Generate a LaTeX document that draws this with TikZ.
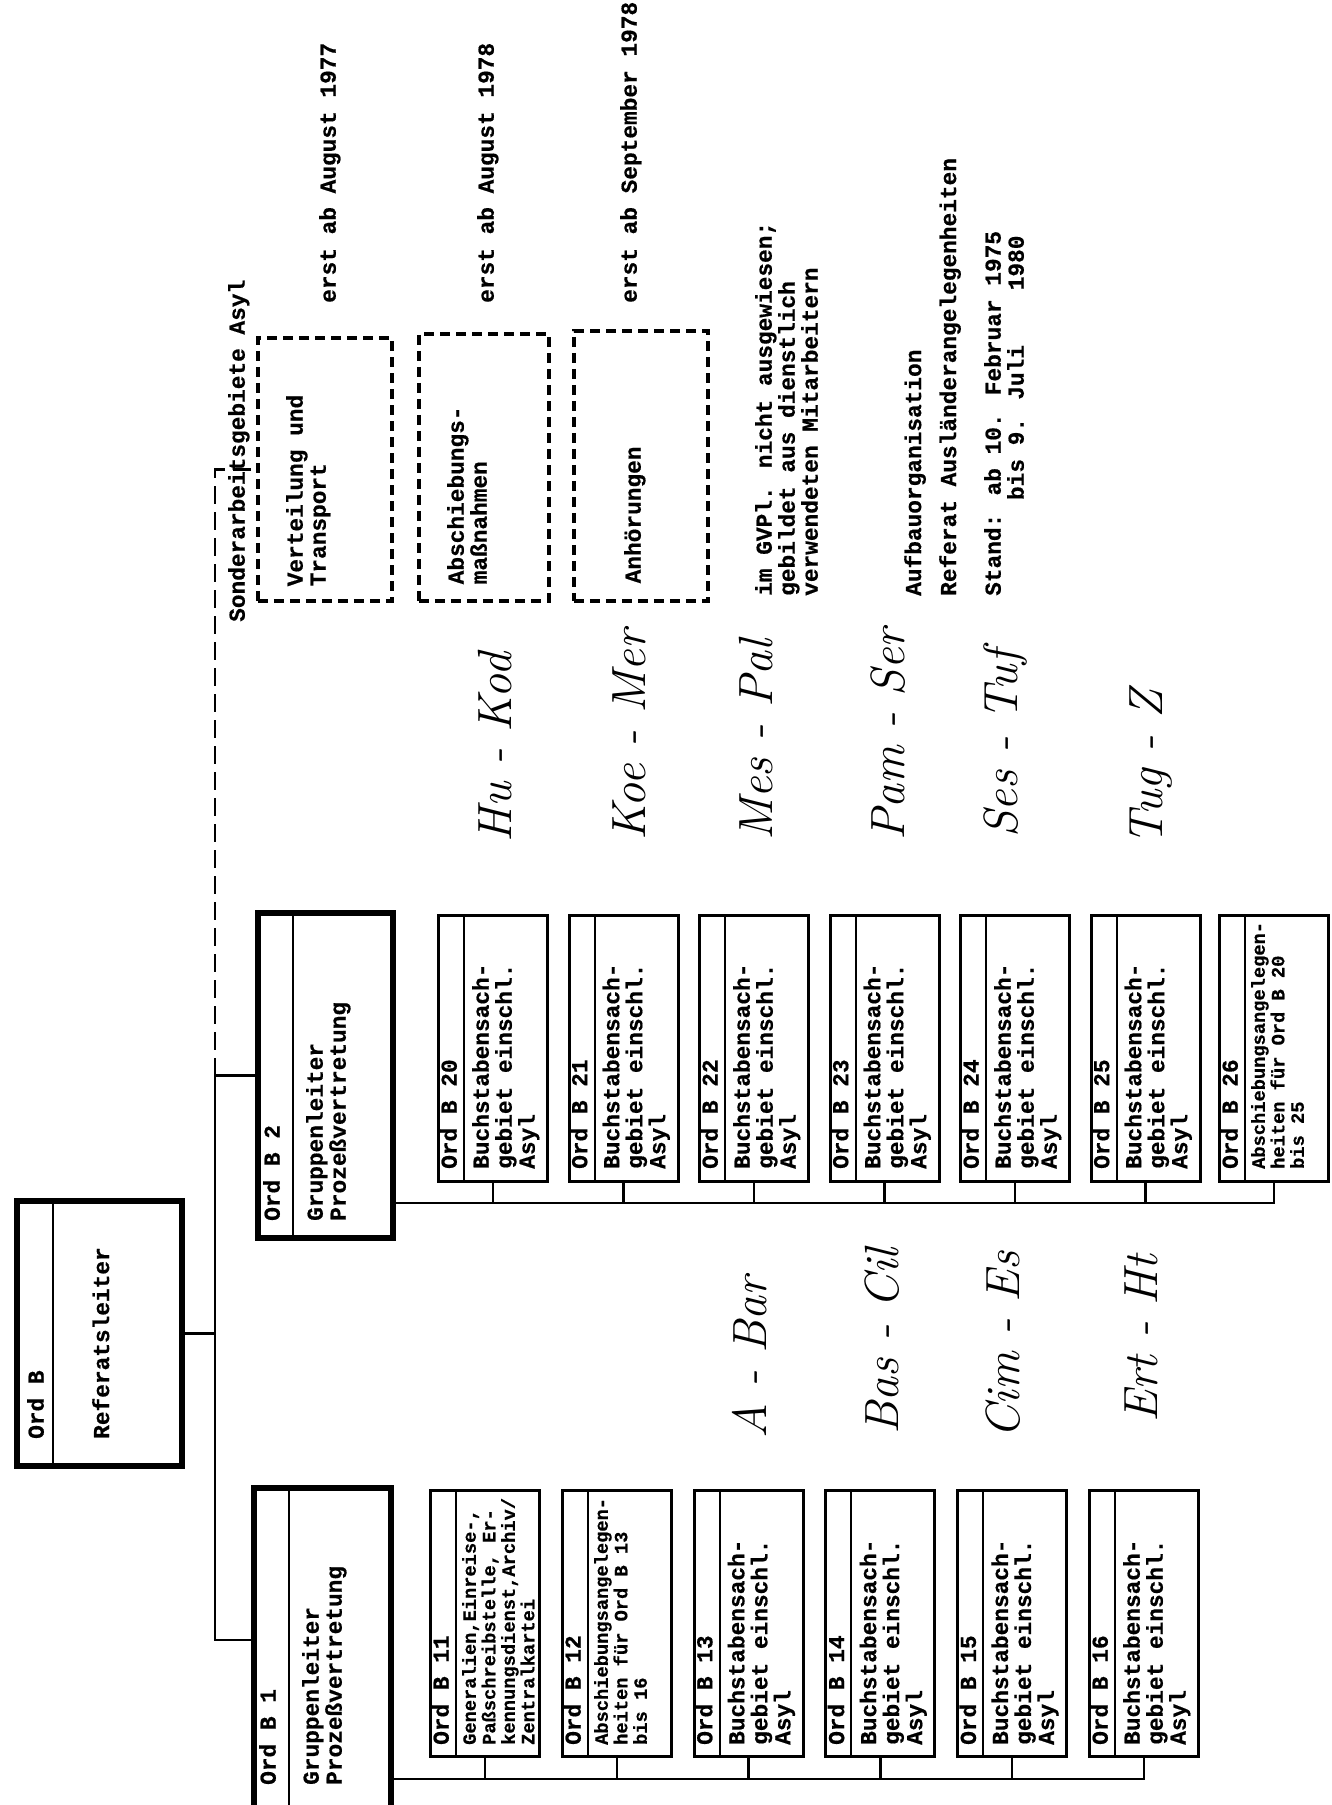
\documentclass[tikz,border=0pt]{standalone}
\usepackage{fontspec}
\newfontfamily\tw{Liberation Mono}[BoldFeatures={FakeBold=0.6}]
\usetikzlibrary{calc}
\tikzset{
  head/.style= {draw, line width=6, anchor=north west, inner sep=0},
  unit/.style= {draw, line width=3, anchor=north west, inner sep=0,
    minimum width=109, minimum height=266},
  plan/.style= {draw, line width=3.5, dash pattern=on 10 off 6,
    anchor=north west, inner sep=0},
  txt/.style= {rotate=90, anchor=north west, align=left, inner sep=0,
    font=\tw\bfseries\fontsize{22.8}{23}\selectfont},
  tight/.style= {txt, font=\tw\bfseries\fontsize{18.7}{19.5}\selectfont},
  hand/.style= {rotate=90, anchor=west, inner sep=0,
    font=\itshape\fontsize{48}{48}\selectfont},
  sep/.style= {line width=2},
  link/.style= {line width=2.5},
}

\begin{document}
\begin{tikzpicture}[x=1pt, y=-1pt]
  \useasboundingbox (0,0) rectangle (1332,1805);
  \clip (0,0) rectangle (1332,1805);

  % Referatsleiter und Gruppenleiter
  \node [head, minimum width=165, minimum height=265] (ref) at (14,1198) {};
  \node [head, minimum width=135, minimum height=325] (g2) at (255,910) {};
  \node [head, minimum width=137, minimum height=335] (g1) at (251,1485) {};
  \draw [sep] ($(ref.north west)+(39,0)$) -- ($(ref.south west)+(39,0)$);
  \draw [sep] ($(g2.north west)+(38,0)$) -- ($(g2.south west)+(38,0)$);
  \draw [sep] ($(g1.north west)+(38,0)$) -- ($(g1.south west)+(38,0)$);
  \node [txt] (refa) at ($(ref.south west)+(13,-30)$) {Ord B};
  \node [txt] (refb) at ($(ref.south west)+(78,-30)$) {Referatsleiter};
  \node [txt] (g2a) at ($(g2.south west)+(8,-20)$) {Ord B 2};
  \node [txt] (g2b) at ($(g2.south west)+(51,-20)$) {Gruppenleiter\\Prozeßvertretung};
  \node [txt] (g1a) at ($(g1.north west)+(8,300)$) {Ord B 1};
  \node [txt] (g1b) at ($(g1.north west)+(51,300)$) {Gruppenleiter\\Prozeßvertretung};

  % Gruppe 2
  \foreach \n [count=\i from 0] in {20,...,25} {
    \node [unit] (o\n) at (437+130.5*\i,914) {};
    \draw [sep] ($(o\n.north west)+(27,0)$) -- ($(o\n.south west)+(27,0)$);
    \node [txt] (l\n) at ($(o\n.south west)+(3,-14)$) {Ord B \n};
    \node [txt] (t\n) at ($(o\n.south west)+(35,-14)$) {Buchstabensach-\\gebiet einschl.\\Asyl};
  }
  \node [unit] (o26) at (1218,914) {};
  \draw [sep] ($(o26.north west)+(27,0)$) -- ($(o26.south west)+(27,0)$);
  \node [txt] (l26) at ($(o26.south west)+(3,-14)$) {Ord B 26};
  \node [tight] (t26) at ($(o26.south west)+(33,-14)$) {Abschiebungsangelegen-\\heiten für Ord B 20\\bis 25};

  % Gruppe 1
  \node [unit] (o11) at (429,1489) {};
  \node [unit] (o12) at (561,1489) {};
  \foreach \n [count=\i from 2] in {13,...,16} {
    \node [unit] (o\n) at (429+131.8*\i,1489) {};
    \node [txt] (t\n) at ($(o\n.south west)+(35,-13)$) {Buchstabensach-\\gebiet einschl.\\Asyl};
  }
  \foreach \n in {11,...,16} {
    \draw [sep] ($(o\n.north west)+(27,0)$) -- ($(o\n.south west)+(27,0)$);
    \node [txt] (l\n) at ($(o\n.south west)+(3,-13)$) {Ord B \n};
  }
  \node [tight] (t11) at ($(o11.south west)+(33,-13)$) {Generalien,Einreise-,\\Paßschreibstelle, Er-\\kennungsdienst,Archiv/\\Zentralkartei};
  \node [tight] (t12) at ($(o12.south west)+(33,-13)$) {Abschiebungsangelegen-\\heiten für Ord B 13\\bis 16};

  % Verbindungen
  \coordinate (bus2) at (0,1203);
  \coordinate (bus1) at (0,1779);
  \coordinate (j1) at (215,1640);
  \draw [link] (bus2 -| g2.east) -| (o26.south);
  \foreach \n in {20,...,25} \draw [link] (o\n.south) -- (o\n.south |- bus2);
  \draw [link] (bus1 -| g1.east) -| (o16.south);
  \foreach \n in {11,...,15} \draw [link] (o\n.south) -- (o\n.south |- bus1);
  \draw [link] (g2.west) -| (j1) -- (j1 -| g1.west);
  \draw [link] (ref.east) -- (ref.east -| j1);

  % Sonderarbeitsgebiete
  \node [plan, minimum width=134, minimum height=263] (vt) at (256,336) {};
  \node [plan, minimum width=130, minimum height=267] (ab) at (417,332) {};
  \node [plan, minimum width=134, minimum height=270] (an) at (572,329) {};
  \draw [link, dash pattern=on 18 off 8] (g2.west -| j1) |- (vt.west);
  \node [txt] (son) at (228,622) {Sonderarbeitsgebiete Asyl};
  \node [txt] (vtt) at ($(vt.south west)+(30,-16)$) {Verteilung und\\Transport};
  \node [txt] (abt) at ($(ab.south west)+(30,-18)$) {Abschiebungs-\\maßnahmen};
  \node [txt] (ant) at ($(an.south west)+(52,-19)$) {Anhörungen};
  \node [txt] (vtd) at (319,303) {erst ab August 1977};
  \node [txt] (abd) at (477,303) {erst ab August 1978};
  \node [txt] (and) at (620,303) {erst ab September 1978};

  % Vermerke
  \node [txt] (gvp) at (755,596) {im GVPl. nicht ausgewiesen;\\gebildet aus dienstlich\\verwendeten Mitarbeitern};
  \node [txt] (auf) at (904,596) {Aufbauorganisation};
  \node [txt] (rfa) at (939,596) {Referat Ausländerangelegenheiten};
  \node [txt] (std) at (984,596) {Stand: ab 10. Februar 1975\\\phantom{Stand:\ }bis 9. Juli\ \ \ \ 1980};

  % Buchstabenbereiche (handschriftlich)
  \foreach \t/\x/\y [count=\k] in {A - Bar/750/1439, Bas - Cil/882/1435,
      Cim - Es/1003/1439, Ert - Ht/1141/1423, Hu - Kod/495/843,
      Koe - Mer/629/841, Mes - Pal/756/841, Pam - Ser/888/841,
      Ses - Tuf/1005/838, Tug - Z/1151/846}
    \node [hand] (h\k) at (\x,\y) {\t};
\end{tikzpicture}
\end{document}
